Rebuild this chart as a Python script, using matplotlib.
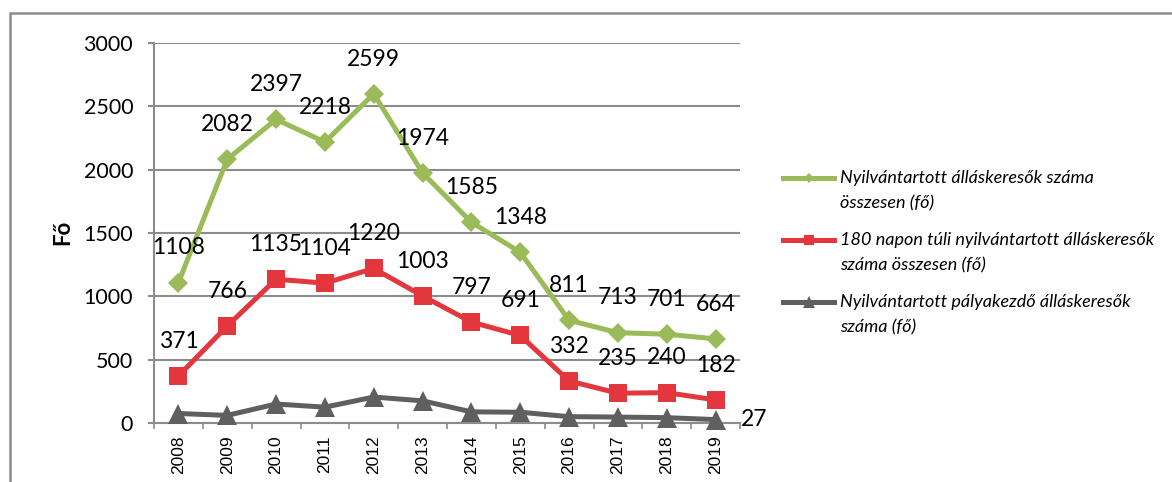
import matplotlib
matplotlib.use('Agg')
import matplotlib.pyplot as plt
from matplotlib.lines import Line2D
from matplotlib.patches import Rectangle

years = ['2008', '2009', '2010', '2011', '2012', '2013', '2014', '2015', '2016', '2017', '2018', '2019']
osszes = [1108, 2082, 2397, 2218, 2599, 1974, 1585, 1348, 811, 713, 701, 664]
tartos = [371, 766, 1135, 1104, 1220, 1003, 797, 691, 332, 235, 240, 182]
palyakezdo = [75, 60, 150, 125, 205, 175, 88, 85, 50, 47, 42, 27]

legend_labels = ['Nyilvántartott álláskeresők száma\nösszesen (fő)',
                 '180 napon túli nyilvántartott álláskeresők\nszáma összesen (fő)',
                 'Nyilvántartott pályakezdő álláskeresők\nszáma (fő)']

green = '#9BBB59'
red = '#E3363D'
grey = '#5F5F5F'
axis_col = '#8C8C8C'

W, H = 1172, 482
fig = plt.figure(figsize=(W / 100, H / 100), dpi=100)
ax = fig.add_axes([154 / W, 1 - 423 / H, (740 - 154) / W, (423 - 43) / H])

x = list(range(len(years)))
series = [
    (osszes, green, 'D', 10, 'above'),
    (tartos, red, 's', 13.5, 'above'),
    (palyakezdo, grey, '^', 14.5, 'last'),
]
for vals, col, mk, ms, lab in series:
    ax.plot(x, vals, color=col, lw=3.6, marker=mk, ms=ms, mec=col, mew=0, zorder=3,
            clip_on=False)
    if lab == 'above':
        for xi, v in zip(x, vals):
            ax.annotate(str(v), (xi, v), xytext=(0, 25), textcoords='offset points',
                        ha='center', va='center', fontsize=16.5, family='Lato', zorder=4)
    else:
        ax.annotate(str(vals[-1]), (x[-1], vals[-1]), xytext=(28, 0),
                    textcoords='offset points', ha='center', va='center',
                    fontsize=16.5, family='Lato', zorder=4)

ax.set_xlim(-0.5, 11.5)
ax.set_ylim(0, 3000)
ax.set_yticks(range(0, 3001, 500))
ax.yaxis.grid(True, color=axis_col, lw=1.5)
ax.set_axisbelow(True)
for s in ['top', 'right']:
    ax.spines[s].set_visible(False)
for s in ['left', 'bottom']:
    ax.spines[s].set_color(axis_col)
    ax.spines[s].set_linewidth(1.5)

ax.set_xticks(x)
ax.set_xticklabels(years, rotation=90, family='Liberation Sans', fontsize=12.5)
ax.set_xticks([i - 0.5 for i in range(len(years) + 1)], minor=True)
ax.tick_params(axis='x', which='major', length=0, pad=9)
ax.tick_params(axis='x', which='minor', length=4, width=1.2, color=axis_col)
ax.tick_params(axis='y', length=4, width=1.5, color=axis_col, pad=11, labelsize=15.5)
for t in ax.get_yticklabels():
    t.set_family('Lato')

fig.text(63 / W, 1 - 232 / H, 'Fő', rotation=90, ha='center', va='center',
         fontsize=16, fontweight='bold', family='Lato')

# legend drawn by hand so the marker sits on the first text line
leg_y = [178, 240, 302]
for (vals, col, mk, ms, lab), text, yy in zip(series, legend_labels, leg_y):
    fy = 1 - yy / H
    fig.add_artist(Line2D([783 / W, 834 / W], [fy, fy], color=col, lw=3.6))
    fig.add_artist(Line2D([808.5 / W], [fy], color=col, marker=mk, ms=ms * 0.55, mew=0))
    for k, line in enumerate(text.split('\n')):
        fig.text(840 / W, 1 - (yy + 25 * k) / H, line, ha='left', va='center',
                 fontsize=13, style='italic', family='Lato')

# outer frame of the chart object
fig.add_artist(Rectangle((10 / W, -0.2), 1.2, 1.2 - 13 / H, transform=fig.transFigure,
                         fill=False, ec=axis_col, lw=1.8))

fig.savefig('out.png', dpi=100)
